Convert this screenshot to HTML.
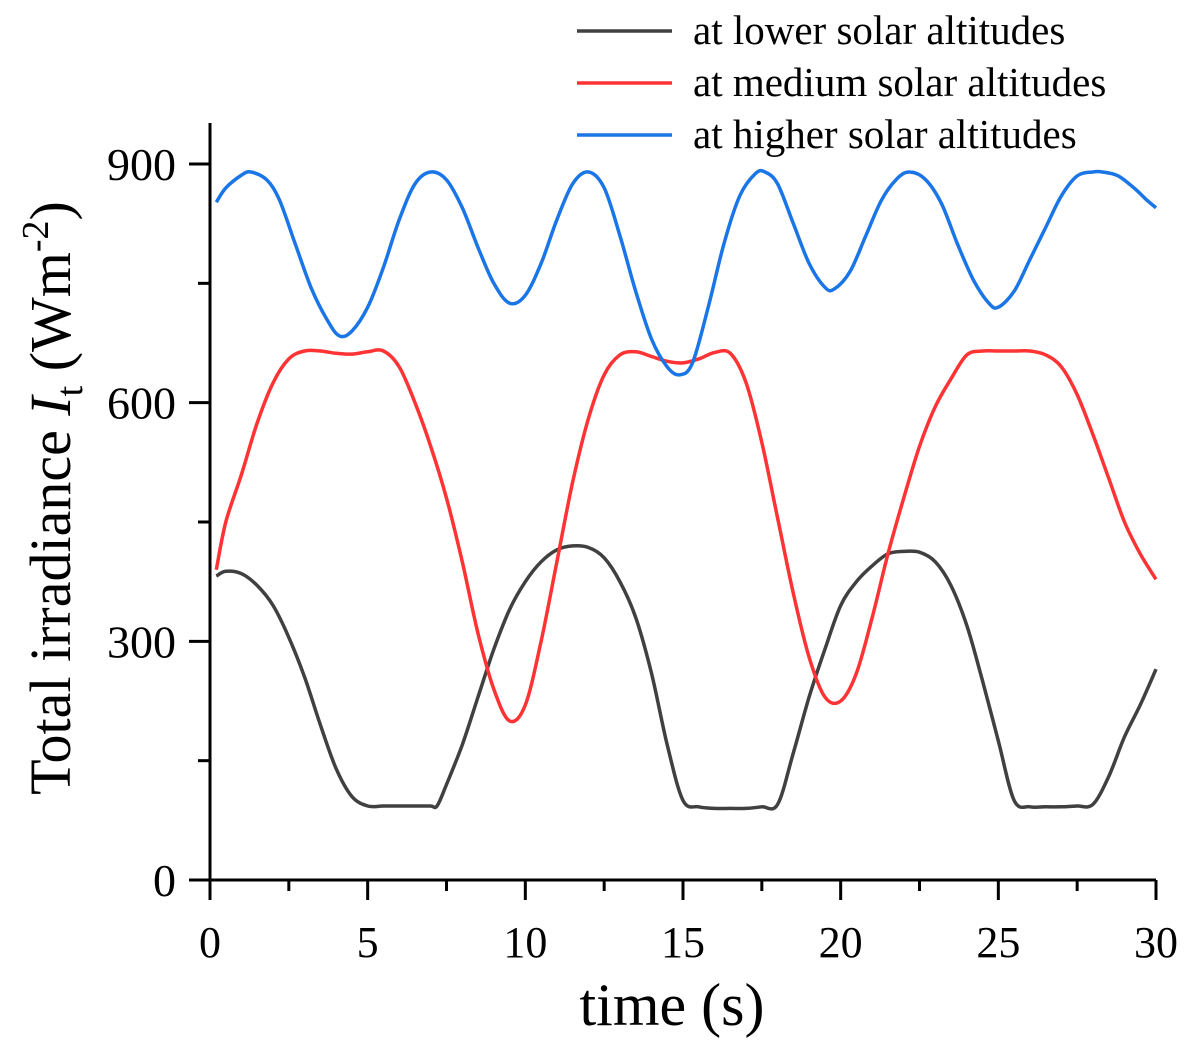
<!DOCTYPE html>
<html><head><meta charset="utf-8"><style>
body{margin:0;background:#fff}
svg{display:block;font-family:"Liberation Serif",serif}
</style></head><body>
<svg id="chart" width="1191" height="1055">
<g id="axes"></g><g id="series"></g><g id="legend"></g>
</svg>
<script>
const xTicks=[0,5,10,15,20,25,30];
const yTicks=[0,300,600,900];
const lowT=[0.2,0.5,1,1.5,2,2.5,3,3.5,4,4.5,5,5.5,6,6.5,7,7.2,7.5,8,8.5,9,9.5,10,10.5,11,11.5,12,12.5,13,13.5,14,14.5,15,15.5,16,16.5,17,17.5,18,18.5,19,19.5,20,20.5,21,21.5,22,22.5,23,23.5,24,24.5,25,25.5,26,26.5,27,27.5,28,28.5,29,29.5,30];
const lowV=[382,388,385,370,345,305,255,195,140,105,93,93,93,93,93,93,120,170,230,290,340,375,400,415,420,418,405,375,330,260,170,100,92,90,90,90,92,95,160,230,290,345,375,395,410,413,412,400,370,320,250,175,100,92,92,92,93,95,130,180,220,265];
const medT=[0.2,0.5,1,1.5,2,2.5,3,3.5,4,4.5,5,5.5,6,6.5,7,7.5,8,8.5,9,9.5,10,10.5,11,11.5,12,12.5,13,13.5,14,14.5,15,15.5,16,16.5,17,17.5,18,18.5,19,19.5,20,20.5,21,21.5,22,22.5,23,23.5,24,24.5,25,25.5,26,26.5,27,27.5,28,28.5,29,29.5,30];
const medV=[390,450,510,575,625,655,665,665,662,661,664,665,645,600,545,480,400,310,240,200,220,300,400,500,580,635,660,664,658,652,650,655,663,662,625,550,455,360,280,230,225,260,330,410,480,545,595,630,660,665,665,665,665,660,645,610,560,505,450,410,378];
const highT=[0.2,0.5,1,1.3,1.8,2.2,2.7,3.2,3.7,4.1,4.5,5,5.5,6,6.5,7,7.5,8,8.5,9,9.5,10,10.5,11,11.5,12,12.5,13,13.5,14,14.5,14.9,15.3,15.8,16.3,16.8,17.3,17.6,18,18.5,19,19.5,19.8,20.3,20.8,21.3,21.8,22.2,22.7,23.2,23.7,24.2,24.7,25,25.5,26,26.5,27,27.5,28,28.3,28.8,29.3,29.7,30];
const highV=[852,870,886,890,880,855,800,745,705,684,690,720,770,830,875,890,880,845,795,750,725,735,775,830,875,890,870,810,740,680,645,635,650,720,800,860,888,890,875,825,775,745,743,765,810,855,882,890,880,850,800,755,725,720,740,780,820,860,885,890,890,885,870,855,845];
const names=["at lower solar altitudes","at medium solar altitudes","at higher solar altitudes"];
const colors=["#404040","#ff3333","#1a75e6"];
const X0=210,X1=1156,Y0=880,Y900=164;
const sx=t=>X0+(X1-X0)*t/30;
const sy=v=>Y0-(Y0-Y900)*v/900;
const NS="http://www.w3.org/2000/svg";
function mk(tag,attrs,parent,txt){const e=document.createElementNS(NS,tag);for(const k in attrs)e.setAttribute(k,attrs[k]);if(txt!=null)e.textContent=txt;parent.appendChild(e);return e;}
const axes=document.getElementById('axes');
let e;
e=mk('line',{x1:X0,y1:123,x2:X0,y2:Y0+1.5,stroke:'#000','stroke-width':3},axes);


e=mk('line',{x1:X0-1.5,y1:Y0,x2:X1,y2:Y0,stroke:'#000','stroke-width':3},axes);


xTicks.forEach((t,i)=>{
  mk('line',{x1:sx(t),y1:Y0,x2:sx(t),y2:Y0+20,stroke:'#000','stroke-width':3},axes);
  if(i<xTicks.length-1){const m=(t+xTicks[i+1])/2;mk('line',{x1:sx(m),y1:Y0,x2:sx(m),y2:Y0+11,stroke:'#000','stroke-width':3},axes);}
  e=mk('text',{x:sx(t),y:957,'font-size':44,'text-anchor':'middle'},axes,String(t));
  
  
});
yTicks.forEach((v,i)=>{
  mk('line',{x1:X0,y1:sy(v),x2:X0-21,y2:sy(v),stroke:'#000','stroke-width':3},axes);
  if(i<yTicks.length-1){const m=(v+yTicks[i+1])/2;mk('line',{x1:X0,y1:sy(m),x2:X0-12,y2:sy(m),stroke:'#000','stroke-width':3},axes);}
  e=mk('text',{x:176,y:sy(v)+16,'font-size':46,'text-anchor':'end'},axes,String(v));
  
  
});
e=mk('text',{x:672,y:1025,'font-size':60,'text-anchor':'middle'},axes,'time (s)');


const yt=mk('text',{transform:'translate(70,498) rotate(-90)','font-size':58,'text-anchor':'middle'},axes);


mk('tspan',{},yt,'Total irradiance ');
mk('tspan',{'font-style':'italic'},yt,'I');
mk('tspan',{'font-size':38,dy:12},yt,'t');
mk('tspan',{dy:-12},yt,' (Wm');
mk('tspan',{'font-size':38,dy:-22},yt,'-2');
mk('tspan',{dy:22},yt,')');
const ser=document.getElementById('series');
const data=[[lowT,lowV],[medT,medV],[highT,highV]];
const snames=['series-lower','series-medium','series-higher'];
function smoothPath(P){
  let d='M'+P[0][0].toFixed(1)+','+P[0][1].toFixed(1);
  for(let i=0;i<P.length-1;i++){
    const p0=P[Math.max(0,i-1)],p1=P[i],p2=P[i+1],p3=P[Math.min(P.length-1,i+2)];
    const c1=[p1[0]+(p2[0]-p0[0])/6,p1[1]+(p2[1]-p0[1])/6];
    const c2=[p2[0]-(p3[0]-p1[0])/6,p2[1]-(p3[1]-p1[1])/6];
    d+=' C'+c1.map(v=>v.toFixed(1)).join(',')+' '+c2.map(v=>v.toFixed(1)).join(',')+' '+p2[0].toFixed(1)+','+p2[1].toFixed(1);
  }
  return d;
}
data.forEach((d,i)=>{
  const P=d[0].map((t,j)=>[sx(t),sy(d[1][j])]);
  const p=mk('path',{d:smoothPath(P),fill:'none',stroke:colors[i],'stroke-width':3.5,'stroke-linejoin':'round'},ser);
  
  
});
const lg=document.getElementById('legend');
names.forEach((n,i)=>{
  const y=31+52*i;
  const g=mk('g',{},lg);
  
  
  mk('line',{x1:577,y1:y,x2:672,y2:y,stroke:colors[i],'stroke-width':3.5},g);
  mk('text',{x:693,y:y+13,'font-size':41},g,n);
});
</script>
</body></html>
